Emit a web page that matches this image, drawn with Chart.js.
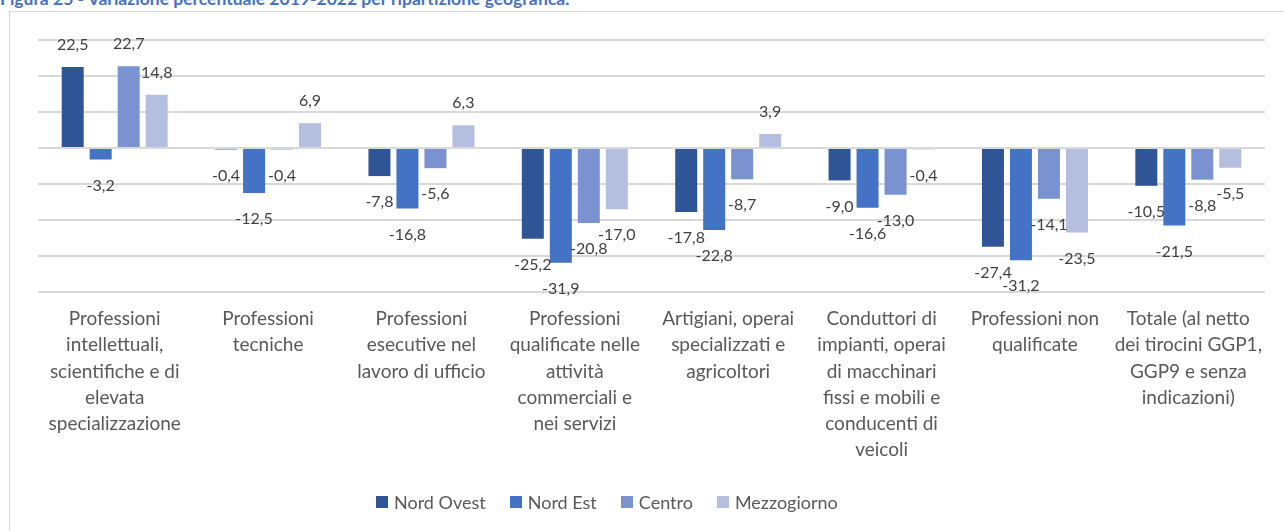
<!DOCTYPE html>
<html lang="it">
<head>
  <meta charset="UTF-8">
  <title>Figura 25 - Variazione percentuale 2019-2022</title>
  <script src="https://cdn.jsdelivr.net/npm/chart.js"></script>
  <style>
    html, body { margin: 0; padding: 0; background: #fff; }
    body { width: 1284px; height: 531px; overflow: hidden; position: relative; font-family: Lato, sans-serif; }
    #title { position: absolute; left: 0; top: -10px; font-weight: bold; font-size: 17.5px; line-height: 1; color: #4472C4; white-space: nowrap; }
    #frame { position: absolute; left: 9px; top: 11px; width: 1300px; height: 540px; border: 1px solid #D9D9D9; }
    #wrap { position: absolute; left: 0; top: 0; width: 1284px; height: 531px; }
    #legend { position: absolute; left: 376px; top: 491px; display: flex; align-items: center; gap: 24px; font-size: 18px; color: #595959; }
    #legend .item { display: flex; align-items: center; }
    #legend .box { width: 12px; height: 12px; margin-right: 6px; }
  </style>
</head>
<body>
  <div id="title">Figura 25 - Variazione percentuale 2019-2022 per ripartizione geografica.</div>
  <div id="frame"></div>
  <div id="wrap"><canvas id="chart"></canvas></div>
  <div id="legend"></div>

  <script>
    // categorie (già spezzate come nel grafico originale)
    const categories = [
      ['Professioni', 'intellettuali,', 'scientifiche e di', 'elevata', 'specializzazione'],
      ['Professioni', 'tecniche'],
      ['Professioni', 'esecutive nel', 'lavoro di ufficio'],
      ['Professioni', 'qualificate nelle', 'attività', 'commerciali e', 'nei servizi'],
      ['Artigiani, operai', 'specializzati e', 'agricoltori'],
      ['Conduttori di', 'impianti, operai', 'di macchinari', 'fissi e mobili e', 'conducenti di', 'veicoli'],
      ['Professioni non', 'qualificate'],
      ['Totale (al netto', 'dei tirocini GGP1,', 'GGP9 e senza', 'indicazioni)']
    ];

    const seriesNames = ['Nord Ovest', 'Nord Est', 'Centro', 'Mezzogiorno'];
    const nordOvest   = [22.5, -0.4, -7.8, -25.2, -17.8, -9.0, -27.4, -10.5];
    const nordEst     = [-3.2, -12.5, -16.8, -31.9, -22.8, -16.6, -31.2, -21.5];
    const centro      = [22.7, -0.4, -5.6, -20.8, -8.7, -13.0, -14.1, -8.8];
    const mezzogiorno = [14.8, 6.9, 6.3, -17.0, 3.9, -0.4, -23.5, -5.5];

    const colors = ['#2F5597', '#4472C4', '#7A92CF', '#B4BFE0'];
    const series = [nordOvest, nordEst, centro, mezzogiorno];

    // etichette valore fuori dalla barra, con la virgola decimale
    const valueLabels = {
      id: 'valueLabels',
      afterDatasetsDraw(chart) {
        const ctx = chart.ctx;
        ctx.save();
        ctx.font = '16px Lato';
        ctx.fillStyle = '#404040';
        ctx.textAlign = 'center';
        ctx.textBaseline = 'middle';
        chart.data.datasets.forEach((ds, i) => {
          chart.getDatasetMeta(i).data.forEach((bar, j) => {
            const v = ds.data[j];
            const y = v >= 0 ? bar.y - 22 : bar.y + 26;
            ctx.fillText(v.toFixed(1).replace('.', ','), bar.x, y);
          });
        });
        ctx.restore();
      }
    };

    const chart = new Chart(document.getElementById('chart'), {
      type: 'bar',
      data: {
        labels: categories,
        datasets: series.map((d, i) => ({
          label: seriesNames[i],
          data: d,
          backgroundColor: colors[i],
          borderWidth: 0,
          categoryPercentage: 0.73,
          barPercentage: 0.786
        }))
      },
      options: {
        responsive: true,
        maintainAspectRatio: false,
        animation: false,
        layout: { padding: { left: 38, right: 19, top: 40, bottom: 59 } },
        plugins: {
          legend: { display: false },
          tooltip: { enabled: false }
        },
        scales: {
          x: {
            grid: { display: false, drawTicks: false },
            border: { display: false },
            ticks: {
              padding: 14,
              maxRotation: 0,
              autoSkip: false,
              color: '#595959',
              font: { family: 'Lato', size: 19, lineHeight: 1.38 }
            },
            afterFit(scale) { scale.height = 180; }
          },
          y: {
            min: -40,
            max: 30,
            ticks: { display: false, stepSize: 10 },
            grid: { color: '#D9D9D9', lineWidth: 2, drawTicks: false },
            border: { display: false }
          }
        }
      },
      plugins: [valueLabels]
    });

    // legenda
    const legend = document.getElementById('legend');
    seriesNames.forEach((name, i) => {
      const item = document.createElement('div');
      item.className = 'item';
      item.innerHTML = '<span class="box" style="background:' + colors[i] + '"></span>' + name;
      legend.appendChild(item);
    });
  </script>
</body>
</html>
